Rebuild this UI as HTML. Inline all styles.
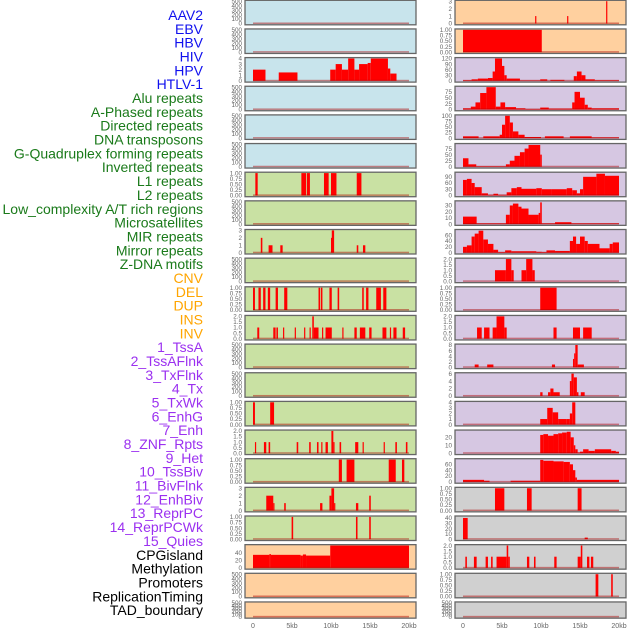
<!DOCTYPE html>
<html><head><meta charset="utf-8">
<style>
html,body{margin:0;padding:0;background:#fff;}
svg{display:block;font-family:"Liberation Sans",sans-serif;}
</style></head>
<body>
<svg id="chart" width="630" height="630" viewBox="0 0 630 630" xmlns="http://www.w3.org/2000/svg">
<g id="labels"></g>
<g id="panels"></g>
<g id="xaxes"></g>
</svg>
<script>
// ---------- labels ----------
const featureLabels = ["AAV2","EBV","HBV","HIV","HPV","HTLV-1","Alu repeats","A-Phased repeats","Directed repeats","DNA transposons","G-Quadruplex forming repeats","Inverted repeats","L1 repeats","L2 repeats","Low_complexity A/T rich regions","Microsatellites","MIR repeats","Mirror repeats","Z-DNA motifs","CNV","DEL","DUP","INS","INV","1_TssA","2_TssAFlnk","3_TxFlnk","4_Tx","5_TxWk","6_EnhG","7_Enh","8_ZNF_Rpts","9_Het","10_TssBiv","11_BivFlnk","12_EnhBiv","13_ReprPC","14_ReprPCWk","15_Quies","CPGisland","Methylation","Promoters","ReplicationTiming","TAD_boundary"];
const labelGroups = [6,13,5,15,5];
const groupColors = ["#1010ee","#1a7a1a","#ffa500","#9b30f0","#000000"];

// ---------- tick sets ----------
const tEmpty = ["0","100","200","300","400","500"];
const tEmptyV = [0,100,200,300,400,500];
const tBin = ["0.00","0.25","0.50","0.75","1.00"];
const tBinV = [0,0.25,0.5,0.75,1];
const t3 = [0,1,2,3];
const t4 = [0,1,2,3,4];
const t2 = ["0.0","0.5","1.0","1.5","2.0"];
const t2V = [0,0.5,1,1.5,2];

// ---------- series: segments [startKb, endKb, value] ----------
const s0R = [[9.25,9.4,1],[13.35,13.5,1],[18.35,18.5,3]];
const s1R = [[0,10.1,1]];
const s2L = [[0,1.6,2],[3.3,5.7,1.5],[9.9,10.6,2],[10.6,11.4,3],[11.4,12.2,2],[12.2,13,4],[13,13.6,2],[13.6,14.7,3],[14.7,15.1,3.2],[15.1,17.3,4],[17.3,17.6,2.2],[17.6,18.4,1.3]];
const s2R = [[0,1.1,3],[1.1,1.9,8],[1.9,3.2,12],[3.2,3.8,15],[3.8,4.1,50],[4.1,5,120],[5,5.3,80],[5.3,5.6,30],[5.6,7.3,12],[7.3,9.9,2],[9.9,10.8,8],[11.2,13,5],[14.2,14.6,25],[14.6,15.2,50],[15.2,15.7,30],[15.7,16.9,8],[16.9,20,3]];
const s3R = [[0,1,5],[1,1.6,12],[1.6,2.2,30],[2.2,3,70],[3,4.2,95],[4.2,4.8,12],[4.8,5.4,30],[5.4,6.8,10],[6.8,8,5],[8,9.9,2],[9.9,11,8],[11,14,4],[14,14.3,30],[14.3,15,75],[15,15.6,50],[15.6,16,20],[16,16.5,8],[16.5,20,5]];
const s4R = [[0,2,8],[2.6,4.7,8],[4.7,5,15],[5,5.4,60],[5.4,6,100],[6,6.4,70],[6.4,7.1,30],[7.1,7.9,15],[7.9,10,5],[10.5,12.9,8],[13.7,16.5,8],[16.5,20,3]];
const s5R = [[0,0.7,35],[0.7,1.7,10],[1.7,5.5,2],[5.5,6,10],[6,6.6,25],[6.6,7.3,45],[7.3,7.9,60],[7.9,8.4,75],[8.4,9.9,90],[9.9,10.1,50]];
const s6L = [[0.3,0.6,1],[6.2,6.8,1],[6.9,7.3,1],[9.1,9.7,1],[10,10.7,1],[13.3,13.9,1]];
const s6R = [[0,0.5,75],[0.5,1.1,80],[1.1,1.5,60],[1.5,2.4,40],[2.4,3.2,10],[3.2,3.9,3],[3.9,4.5,8],[4.5,5.6,3],[5.6,6.2,15],[6.2,6.9,35],[6.9,7.5,40],[7.5,9.4,32],[9.4,10.1,35],[10.1,11.4,30],[11.4,13.3,30],[13.3,14,35],[14,14.6,25],[14.6,15,10],[15,15.4,30],[15.4,17.1,90],[17.1,18.2,105],[18.2,20,95]];
const s7R = [[0,1.75,12],[1.75,5.5,1],[5.5,6,15],[6,6.4,30],[6.4,7.1,33],[7.1,7.5,28],[7.5,8.4,25],[8.4,9.7,15],[9.7,9.9,18],[9.9,10.1,35],[10.1,11.8,1],[11.8,13.9,3],[13.9,20,1]];
const s8L = [[1,1.2,2],[2,2.5,1],[3.5,3.8,1],[10,10.1,2],[10.1,10.4,3],[13.3,13.5,1],[14.1,14.4,1]];
const s8R = [[0,0.5,20],[0.5,1.1,25],[1.1,1.5,55],[1.5,2,65],[2,2.6,75],[2.6,3.2,45],[3.2,3.9,30],[3.9,4.5,10],[4.5,5.4,2],[5.4,6.2,8],[6.2,9.4,5],[9.4,10.1,3],[10.1,10.7,2],[10.7,11.8,8],[11.8,13.7,6],[13.7,14.1,40],[14.1,14.5,55],[14.5,15,30],[15,15.6,55],[15.6,16,40],[16,17.5,30],[17.5,18.8,15],[18.8,19.2,30],[19.2,20,35]];
const s9R = [[4.1,5.5,1],[5.5,6.2,2],[6.2,6.5,1],[7.5,8.1,1],[8.1,8.9,2],[8.9,9.2,1]];
const s10L = [[0,0.25,1],[0.7,1,1],[1.3,1.6,1],[1.9,2.2,1],[2.9,3.2,1],[4,4.4,1],[8.4,8.6,1],[8.7,8.9,1],[9.8,10.1,1],[10.85,11.05,1],[14,14.2,1],[14.5,14.8,1],[15.8,16.4,1],[16.7,17.1,1]];
const s10R = [[9.9,12,1]];
const s11L = [[0.55,0.8,1],[2.6,2.9,1],[3,3.2,1],[3.85,4,1],[5.35,5.5,1],[6.55,6.7,1],[7.25,7.4,1],[7.6,7.8,2],[7.8,8.4,1],[8.85,9,1],[9.3,10.1,1],[11.45,11.6,1],[13,13.3,1],[13.7,14.4,1],[14.9,15.2,1],[16.6,17.1,1],[17.55,17.7,1],[18,18.4,1],[19.2,19.5,1]];
const s11R = [[1.8,2.4,1],[2.7,3.4,1],[3.8,4.3,1],[4.3,5.3,2],[5.3,5.6,1],[11.6,12,1],[14.1,15,1],[15.4,16.5,1]];
const s12R = [[1.5,2,1],[3.1,3.9,1],[11.4,11.8,1],[14.1,14.25,3],[14.25,14.4,5],[14.4,14.7,8],[14.7,15.5,1]];
const s13R = [[9.9,10.2,1],[10.9,11.2,1],[11.2,11.6,2],[11.6,12.4,1],[13.7,13.9,4],[13.9,14.2,6],[14.2,14.6,5],[14.6,14.8,1],[15.1,15.6,1]];
const s14L = [[0,0.25,1],[2.2,2.7,1]];
const s14R = [[9.9,10.8,1],[10.8,11.5,3],[11.5,12.2,2.2],[12.2,13.3,1],[13.3,13.7,1],[13.7,14,2],[14,14.4,4]];
const s15L = [[0.25,0.4,1],[1.4,1.7,1],[2,2.2,1],[5.6,5.8,1],[7.2,7.4,1],[8.2,8.4,1],[8.75,8.9,1],[9.3,9.6,1],[10.05,10.3,2],[10.3,10.45,1],[11.1,11.3,1],[13.1,13.5,1],[14.05,14.2,1],[16.75,16.9,1],[18.25,18.45,1],[19.6,19.8,1]];
const s15R = [[9.9,10.3,23],[10.3,10.9,24],[10.9,11.6,22],[11.6,12.2,24],[12.2,12.7,25],[12.7,13.3,26],[13.3,13.8,27],[13.8,14.2,20],[14.2,14.4,10],[14.4,14.7,5],[14.7,15,1],[15,15.4,2],[15.4,16.1,5],[16.1,16.9,3],[16.9,19,5],[19,19.6,3],[19.6,20,2]];
const s16L = [[11,11.4,1],[12,13,1],[17.4,18.3,1],[19.1,19.4,1]];
const s16R = [[0,2.7,7],[2.7,3.4,4],[6.1,9.9,4],[9.9,10.3,75],[10.3,11.6,72],[11.6,12.9,70],[12.9,13.7,68],[13.7,14.1,60],[14.1,14.4,40],[14.4,14.6,15],[14.6,20,7]];
const s17L = [[1.7,2.6,2],[2.6,2.7,1],[4,4.2,1],[8.6,8.9,1],[9.8,10.05,2],[10.05,10.4,3],[10.4,10.5,1],[13.2,13.5,1],[14.9,15.1,2]];
const s17R = [[4.1,5.3,1],[8.2,8.8,1],[14.7,15.2,1]];
const s18L = [[4.95,5.15,1],[13.2,13.4,1],[14.9,15.1,1]];
const s18R = [[0,0.6,40],[15.6,16,3]];
const s19L = [[0,2.1,35],[2.1,2.3,37],[2.3,6.1,35],[6.1,6.4,33],[6.4,6.8,36],[6.8,9.9,33],[9.9,20,60]];
const s19R = [[0.3,0.5,1],[1.4,1.75,1],[2.9,3.2,1],[3.6,3.8,1],[4.3,5.6,1],[5.6,5.8,2],[5.8,6,1],[8.2,8.5,1],[9.1,9.3,1],[11.7,12,1],[14.7,15.1,1],[15.1,15.3,2],[15.9,16.2,1],[16.4,16.7,1]];
const s20R = [[17,17.35,1],[19,19.2,1]];

// ---------- x axis ----------
const xTickVals = [0,5,10,15,20];
const xTickLabels = ["0","5kb","10kb","15kb","20kb"];

const BLUE="#c8e4ec", GREEN="#c9e1a3", PURPLE="#d6c7e2", PEACH="#ffd09f", GREY="#d0d0d0";
const E = (bg)=>[bg,500,tEmptyV,tEmpty,[]];
const B = (bg,s)=>[bg,1,tBinV,tBin,s];
const rows = [
 [E(BLUE), [PEACH,3,t3,t3,s0R]],
 [E(BLUE), B(PEACH,s1R)],
 [[BLUE,4,t4,t4,s2L], [PURPLE,120,[0,30,60,90,120],[0,30,60,90,120],s2R]],
 [E(BLUE), [PURPLE,95,[0,25,50,75],[0,25,50,75],s3R]],
 [E(BLUE), [PURPLE,100,[0,25,50,75,100],[0,25,50,75,100],s4R]],
 [E(BLUE), [PURPLE,92,[0,25,50,75],[0,25,50,75],s5R]],
 [B(GREEN,s6L), [PURPLE,108,[0,30,60,90],[0,30,60,90],s6R]],
 [E(GREEN), [PURPLE,36,[0,10,20,30],[0,10,20,30],s7R]],
 [[GREEN,3,t3,t3,s8L], [PURPLE,76,[0,20,40,60],[0,20,40,60],s8R]],
 [E(GREEN), [PURPLE,2,t2V,t2,s9R]],
 [B(GREEN,s10L), B(PURPLE,s10R)],
 [[GREEN,2,t2V,t2,s11L], [PURPLE,2,t2V,t2,s11R]],
 [E(GREEN), [PURPLE,8,[0,2,4,6,8],[0,2,4,6,8],s12R]],
 [E(GREEN), [PURPLE,6,[0,2,4,6],[0,2,4,6],s13R]],
 [B(GREEN,s14L), [PURPLE,4,t4,t4,s14R]],
 [[GREEN,2,t2V,t2,s15L], [PURPLE,28,[0,10,20],[0,10,20],s15R]],
 [B(GREEN,s16L), [PURPLE,76,[0,20,40,60],[0,20,40,60],s16R]],
 [[GREEN,3,t3,t3,s17L], B(GREY,s17R)],
 [B(GREEN,s18L), [GREY,42,[0,10,20,30,40],[0,10,20,30,40],s18R]],
 [[PEACH,60,[0,20,40],[0,20,40],s19L], [GREY,2,t2V,t2,s19R]],
 [E(PEACH), B(GREY,s20R)],
 [E(PEACH), E(GREY)]
];

const NS="http://www.w3.org/2000/svg";
function mk(tag, attrs, parent){const e=document.createElementNS(NS,tag);for(const k in attrs)e.setAttribute(k,attrs[k]);parent.appendChild(e);return e;}

const lg=document.getElementById('labels');
let li=0;
labelGroups.forEach((n,g)=>{for(let k=0;k<n;k++){
  const y=15+li*13.84;
  const t=mk('text',{x:203,y:y+5,'text-anchor':'end','font-size':'14',fill:groupColors[g]},lg);
  
  
  t.textContent=featureLabels[li]; li++;
}});

const pg=document.getElementById('panels');
const colX=[245,455], PW=171, ROWSTEP=28.65;
function xScale(px,kb){return px+8+kb*7.8;}
rows.forEach((row,ri)=>{
  const top=0.3+ri*ROWSTEP;
  const PH = ri===rows.length-1 ? 16.2 : 24.5;
  row.forEach((p,ci)=>{
    const [bg,ymax,tv,tl,ser]=p;
    const px=colX[ci];
    const g=mk('g',{},pg);
    
    
    const r=mk('rect',{x:px,y:top,width:PW,height:PH,fill:bg},g);
    
    
    const base=top+PH-1.3, ph=PH-2.2;
    const yScale=v=>base-v/ymax*ph;
    ser.forEach(s=>{
      const x0=xScale(px,s[0]), x1=xScale(px,s[1]);
      const b=mk('rect',{x:x0,y:yScale(s[2]),width:Math.max(1.2,x1-x0),height:base-yScale(s[2]),fill:'#ff0000'},g);
      
      
    });
    const bl=mk('rect',{x:xScale(px,0),y:base-1,width:xScale(px,20)-xScale(px,0),height:1.5,fill:'rgba(170,0,0,0.45)'},g);
    
    
    const br=mk('rect',{x:px,y:top,width:PW,height:PH,fill:'none',stroke:'#666','stroke-width':1.3},g);
    
    
    tv.forEach((v,k)=>{
      const t=mk('text',{x:px-3,y:yScale(v)+2.2,'text-anchor':'end','font-size':'6.3',fill:'#666'},g);
      
      
      t.textContent=tl[k];
    });
  });
});

const xg=document.getElementById('xaxes');
colX.forEach(px=>{
  xTickVals.forEach((v,k)=>{
    const t=mk('text',{x:xScale(px,v),y:628,'text-anchor':'middle','font-size':'7',fill:'#666'},xg);
    
    
    t.textContent=xTickLabels[k];
  });
});
</script>
</body></html>
